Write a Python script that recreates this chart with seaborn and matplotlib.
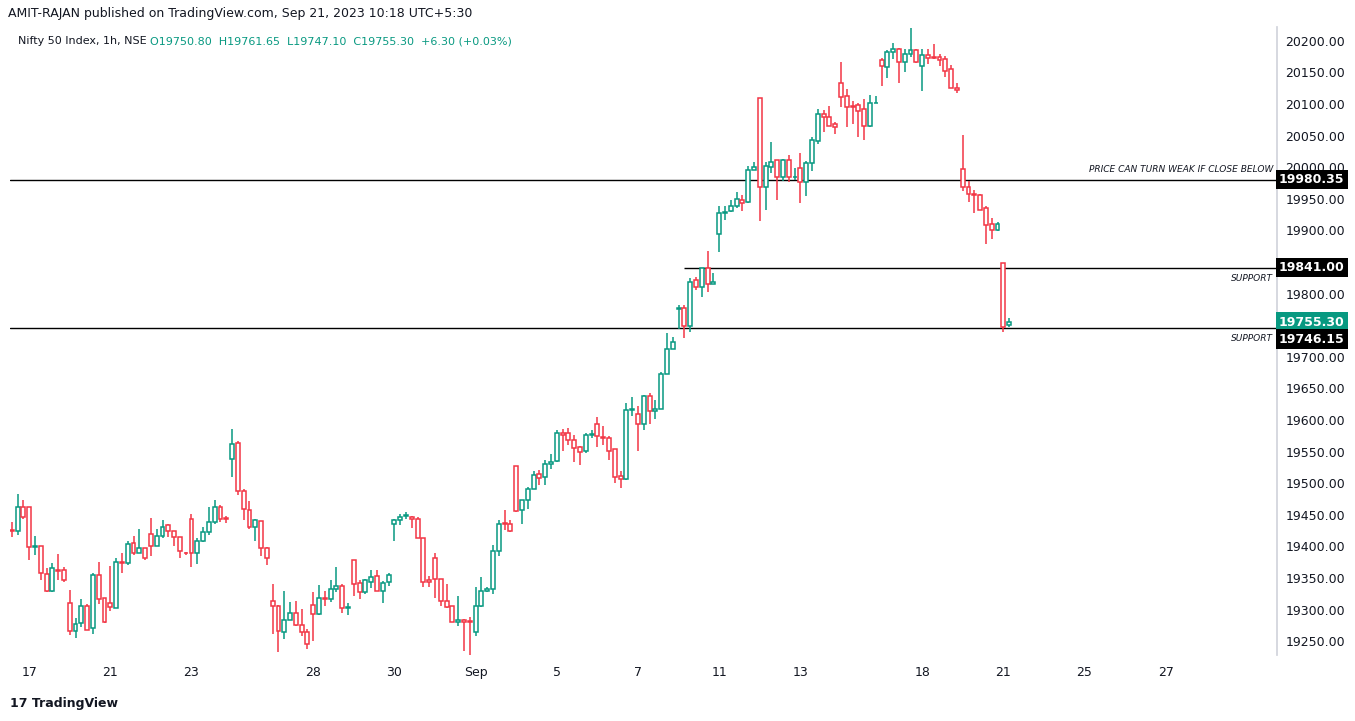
import numpy as np
import pandas as pd
import matplotlib
matplotlib.use("Agg")
import matplotlib.pyplot as plt
import seaborn as sns

opens = [19426,19424,19463,19462,19399,19401,19356,19330,19362,19362,19310,19266,19278,19305,19270,19354,19318,19311,19303,19375,
19374,19405,19390,19397,19419,19401,19416,19433,19425,19414,19390,19443,19389,19409,19423,19439,19462,19444,19538,19563,
19488,19457,19430,19440,19398,19313,19305,19265,19284,19295,19275,19264,19307,19293,19318,19316,19333,19337,19302,19378,
19342,19327,19344,19353,19330,19343,19436,19442,19448,19447,19444,19413,19346,19382,19348,19314,19305,19280,19284,19281,
19265,19305,19329,19333,19392,19436,19436,19527,19458,19473,19490,19514,19509,19530,19535,19580,19579,19568,19557,19551,
19576,19593,19573,19571,19554,19511,19506,19616,19610,19593,19638,19614,19618,19672,19713,19775,19777,19748,19822,19810,
19841,19816,19895,19928,19930,19939,19948,19945,19996,20109,19968,20000,20011,19985,20011,19984,19999,19977,20006,20042,
20084,20080,20068,20133,20112,20096,20098,20092,20066,20101,20170,20159,20182,20187,20167,20180,20185,20160,20177,20174,
20174,20171,20155,20126,19998,19968,19957,19956,19935,19910,19901,19848,19750.80]
highs = [19439,19483,19473,19462,19416,19401,19366,19373,19388,19367,19331,19287,19316,19309,19357,19375,19318,19369,19381,19389,
19409,19416,19427,19397,19445,19427,19442,19435,19425,19414,19391,19451,19413,19431,19462,19473,19465,19448,19586,19567,
19490,19472,19443,19440,19399,19341,19307,19329,19312,19313,19301,19269,19328,19339,19329,19347,19367,19340,19310,19378,
19347,19349,19362,19362,19345,19357,19443,19451,19454,19448,19446,19413,19353,19389,19348,19340,19305,19321,19285,19288,
19336,19352,19336,19402,19442,19458,19442,19527,19473,19494,19519,19521,19537,19546,19584,19586,19588,19576,19559,19579,
19584,19605,19590,19575,19554,19519,19627,19636,19622,19640,19643,19632,19676,19738,19732,19782,19782,19825,19826,19841,
19868,19833,19938,19938,19948,19961,19956,20002,20008,20109,20008,20040,20011,20013,20019,19999,20023,20010,20048,20093,
20090,20097,20071,20166,20124,20105,20102,20108,20114,20113,20173,20185,20197,20189,20187,20221,20187,20187,20187,20195,
20179,20176,20162,20133,20051,19979,19964,19958,19938,19920,19914,19848,19761.65]
lows = [19415,19418,19443,19379,19387,19346,19328,19328,19347,19344,19259,19255,19273,19267,19262,19308,19279,19298,19302,19358,
19370,19387,19389,19378,19384,19401,19413,19415,19401,19382,19387,19368,19372,19407,19418,19435,19439,19437,19510,19481,
19441,19427,19408,19385,19371,19262,19232,19253,19283,19274,19258,19237,19250,19291,19305,19312,19327,19295,19292,19322,
19316,19325,19334,19330,19311,19338,19409,19433,19443,19429,19413,19336,19336,19319,19306,19302,19280,19274,19235,19225,
19258,19304,19328,19325,19385,19426,19423,19455,19435,19459,19490,19497,19497,19523,19534,19551,19561,19534,19528,19547,
19571,19558,19560,19536,19501,19493,19505,19607,19551,19584,19593,19602,19618,19672,19713,19744,19730,19740,19805,19795,
19803,19816,19866,19916,19929,19936,19931,19944,19996,19915,19932,19991,19948,19978,19977,19980,19944,19955,19994,20037,
20056,20066,20053,20096,20063,20068,20048,20043,20063,20101,20129,20142,20172,20134,20151,20175,20165,20121,20163,20172,
20161,20143,20126,20117,19963,19945,19928,19932,19879,19887,19899,19739,19747.10]
closes = [19425,19462,19447,19399,19401,19357,19330,19365,19361,19346,19266,19277,19305,19268,19354,19316,19281,19304,19375,19374,
19403,19390,19398,19381,19401,19416,19431,19424,19414,19392,19389,19389,19409,19422,19439,19462,19443,19443,19562,19488,
19459,19430,19442,19397,19381,19305,19266,19284,19295,19275,19264,19245,19293,19318,19317,19333,19337,19302,19303,19341,
19327,19346,19352,19330,19342,19354,19441,19447,19449,19444,19413,19344,19343,19348,19314,19304,19280,19284,19281,19280,
19305,19329,19333,19392,19436,19435,19424,19456,19473,19490,19513,19508,19531,19534,19580,19577,19569,19555,19550,19577,
19577,19574,19572,19551,19509,19506,19616,19618,19593,19638,19614,19618,19672,19713,19723,19778,19748,19818,19811,19840,
19816,19819,19928,19929,19938,19949,19944,19996,20000,19969,20002,20009,19985,20011,19984,19985,19977,20006,20043,20084,
20079,20066,20063,20111,20096,20095,20089,20066,20101,20102,20160,20182,20187,20167,20180,20185,20167,20177,20173,20173,
20169,20153,20126,20123,19968,19957,19956,19933,19908,19901,19910,19747,19755.30]

tick_pos = [3, 17, 31, 52, 66, 80, 94, 108, 122, 136, 157, 171, 185, 199]
tick_labels = ["17", "21", "23", "28", "30", "Sep", "5", "7", "11", "13", "18", "21", "25", "27"]
price_ticks = list(range(19250, 20201, 50))
hidden_ticks = [19850, 19750]

GREEN = "#089981"
RED = "#F23645"

df = pd.DataFrame({"open": opens, "high": highs, "low": lows, "close": closes})
df["idx"] = np.arange(len(df))
df["up"] = df["close"] >= df["open"]

sns.set_theme(style="white")
fig = plt.figure(figsize=(13.55, 7.21), dpi=100)
ax = fig.add_axes([10/1355, 1-655/721, 1267/1355, 628/721])

colors = np.where(df["up"], GREEN, RED)
ax.vlines(df["idx"], df["low"], df["high"], colors=colors, linewidth=1.1, zorder=2)
bottoms = np.minimum(df["open"], df["close"])
heights = np.maximum(np.abs(df["close"] - df["open"]), 1.2)
ax.bar(df["idx"], heights, bottom=bottoms, width=0.68, facecolor="white",
       edgecolor=colors, linewidth=1.1, zorder=3)

ax.set_xlim(-0.3, 218.2)
ax.set_ylim(19228, 20222)

ax.axhline(19980.35, color="black", linewidth=1, zorder=1)
ax.axhline(19746.15, color="black", linewidth=1, zorder=1)
ax.hlines(19841.0, 116, 218.2, color="black", linewidth=1, zorder=1)
ax.text(217.5, 19989, "PRICE CAN TURN WEAK IF CLOSE BELOW", ha="right", va="bottom",
        fontsize=6.5, style="italic", color="#131722")
ax.text(217.5, 19831, "SUPPORT", ha="right", va="top", fontsize=6.5, style="italic", color="#131722")
ax.text(217.5, 19736, "SUPPORT", ha="right", va="top", fontsize=6.5, style="italic", color="#131722")

ax.set_xticks(tick_pos)
ax.set_xticklabels(tick_labels, fontsize=9, color="#131722")
ax.tick_params(axis="x", length=0, pad=8)
ax.yaxis.tick_right()
ax.set_yticks(price_ticks)
ax.set_yticklabels(["" if p in hidden_ticks else f"{p:.2f}" for p in price_ticks],
                   fontsize=9, color="#131722")
ax.tick_params(axis="y", length=0, pad=6)
for s in ["top", "left", "bottom"]:
    ax.spines[s].set_visible(False)
ax.spines["right"].set_color("#d1d4dc")

def badge(y_val, text, color):
    ax.text(1.0 + 2/1267, y_val, text, transform=ax.get_yaxis_transform(), ha="left", va="center",
            fontsize=9, fontweight="bold", color="white",
            bbox=dict(boxstyle="square,pad=0.25", facecolor=color, edgecolor="none"), zorder=10, clip_on=False)

badge(19980.35, "19980.35", "#000000")
badge(19841.00, "19841.00", "#000000")
badge(19755.0, "19755.30", GREEN)
badge(19728.0, "19746.15", "#000000")

fig.text(8/1355, 1-14/721, "AMIT-RAJAN published on TradingView.com, Sep 21, 2023 10:18 UTC+5:30",
         fontsize=9, color="#131722", va="center")
hdr_y = 1-41/721
fig.text(18/1355, hdr_y, "Nifty 50 Index, 1h, NSE", fontsize=8, color="#131722", va="center")
fig.text(150/1355, hdr_y, "O19750.80  H19761.65  L19747.10  C19755.30  +6.30 (+0.03%)",
         fontsize=8, color=GREEN, va="center")
fig.text(10/1355, 1-703/721, "17 TradingView", fontsize=9, color="#131722", va="center", fontweight="bold")

fig.savefig("out.png", dpi=100)
